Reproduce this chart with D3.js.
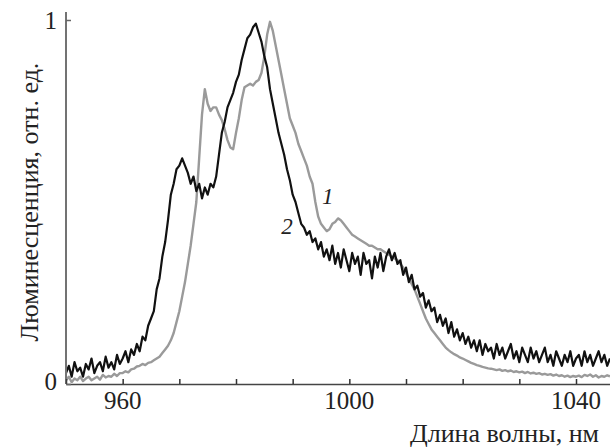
<!DOCTYPE html>
<html>
<head>
<meta charset="utf-8">
<script src="https://cdn.jsdelivr.net/npm/d3@7"></script>
<style>
  body { margin: 0; background: #fff; }
  svg { display: block; }
</style>
</head>
<body>
<script>
// wavelengths, nm (0.5 nm step)
const wavelength = [
  950, 950.5, 951, 951.5, 952, 952.5, 953, 953.5, 954, 954.5,
  955, 955.5, 956, 956.5, 957, 957.5, 958, 958.5, 959, 959.5,
  960, 960.5, 961, 961.5, 962, 962.5, 963, 963.5, 964, 964.5,
  965, 965.5, 966, 966.5, 967, 967.5, 968, 968.5, 969, 969.5,
  970, 970.5, 971, 971.5, 972, 972.5, 973, 973.5, 974, 974.5,
  975, 975.5, 976, 976.5, 977, 977.5, 978, 978.5, 979, 979.5,
  980, 980.5, 981, 981.5, 982, 982.5, 983, 983.5, 984, 984.5,
  985, 985.5, 986, 986.5, 987, 987.5, 988, 988.5, 989, 989.5,
  990, 990.5, 991, 991.5, 992, 992.5, 993, 993.5, 994, 994.5,
  995, 995.5, 996, 996.5, 997, 997.5, 998, 998.5, 999, 999.5,
  1000, 1000.5, 1001, 1001.5, 1002, 1002.5, 1003, 1003.5, 1004, 1004.5,
  1005, 1005.5, 1006, 1006.5, 1007, 1007.5, 1008, 1008.5, 1009, 1009.5,
  1010, 1010.5, 1011, 1011.5, 1012, 1012.5, 1013, 1013.5, 1014, 1014.5,
  1015, 1015.5, 1016, 1016.5, 1017, 1017.5, 1018, 1018.5, 1019, 1019.5,
  1020, 1020.5, 1021, 1021.5, 1022, 1022.5, 1023, 1023.5, 1024, 1024.5,
  1025, 1025.5, 1026, 1026.5, 1027, 1027.5, 1028, 1028.5, 1029, 1029.5,
  1030, 1030.5, 1031, 1031.5, 1032, 1032.5, 1033, 1033.5, 1034, 1034.5,
  1035, 1035.5, 1036, 1036.5, 1037, 1037.5, 1038, 1038.5, 1039, 1039.5,
  1040, 1040.5, 1041, 1041.5, 1042, 1042.5, 1043, 1043.5, 1044, 1044.5,
  1045, 1045.5, 1046
];

// spectrum 1 (gray)
const spectrum1 = [
  0.01, 0.02, 0.005, 0.015, 0.01, 0.02, 0.008, 0.015, 0.02, 0.01,
  0.015, 0.02, 0.012, 0.025, 0.018, 0.022, 0.02, 0.028, 0.022, 0.03,
  0.03, 0.035, 0.032, 0.04, 0.042, 0.048, 0.05, 0.055, 0.052, 0.058,
  0.06, 0.065, 0.07, 0.075, 0.085, 0.095, 0.105, 0.12, 0.14, 0.17,
  0.2, 0.24, 0.28, 0.33, 0.38, 0.44, 0.5, 0.62, 0.74, 0.81,
  0.77, 0.75, 0.76, 0.76, 0.74, 0.725, 0.7, 0.67, 0.65, 0.645,
  0.69, 0.73, 0.78, 0.815, 0.82, 0.825, 0.82, 0.83, 0.835, 0.855,
  0.9, 0.96, 0.995, 0.97, 0.93, 0.89, 0.85, 0.81, 0.77, 0.73,
  0.71, 0.69, 0.66, 0.64, 0.62, 0.6, 0.57, 0.55, 0.5, 0.46,
  0.44, 0.43, 0.42, 0.425, 0.44, 0.445, 0.455, 0.45, 0.44, 0.43,
  0.42, 0.41, 0.405, 0.4, 0.395, 0.39, 0.385, 0.38, 0.38, 0.375,
  0.37, 0.37, 0.365, 0.36, 0.355, 0.35, 0.345, 0.34, 0.33, 0.32,
  0.305, 0.29, 0.275, 0.26, 0.24, 0.22, 0.2, 0.18, 0.165, 0.15,
  0.14, 0.13, 0.12, 0.11, 0.1, 0.093, 0.087, 0.082, 0.078, 0.073,
  0.07, 0.066, 0.062, 0.058, 0.055, 0.052, 0.05, 0.047, 0.045, 0.043,
  0.042, 0.04, 0.038, 0.04, 0.036, 0.038, 0.035, 0.037, 0.033, 0.035,
  0.032, 0.034, 0.03, 0.033, 0.029, 0.031, 0.028, 0.03, 0.026, 0.028,
  0.025, 0.027, 0.023, 0.026, 0.022, 0.024, 0.02, 0.023, 0.019, 0.022,
  0.02, 0.023, 0.019, 0.025, 0.022, 0.026, 0.02, 0.024, 0.018, 0.022,
  0.02, 0.024, 0.021
];

// spectrum 2 (black, noisy)
const spectrum2 = [
  0.03, 0.05, 0.02, 0.06, 0.035, 0.045, 0.02, 0.055, 0.04, 0.07,
  0.03, 0.05, 0.06, 0.035, 0.075, 0.045, 0.06, 0.04, 0.08, 0.055,
  0.07, 0.09, 0.06, 0.095, 0.08, 0.11, 0.09, 0.13, 0.12, 0.16,
  0.18, 0.2, 0.26, 0.29, 0.35, 0.39, 0.45, 0.52, 0.55, 0.59,
  0.6, 0.62, 0.6, 0.58, 0.55, 0.57, 0.53, 0.55, 0.51, 0.54,
  0.52, 0.55, 0.54, 0.57, 0.63, 0.69, 0.72, 0.76, 0.78, 0.8,
  0.83, 0.85, 0.89, 0.92, 0.95, 0.96, 0.98, 0.99, 0.965, 0.94,
  0.9, 0.87, 0.81, 0.77, 0.73, 0.69, 0.66, 0.63, 0.59, 0.56,
  0.52, 0.5, 0.47, 0.44, 0.43, 0.41, 0.42, 0.39, 0.4, 0.37,
  0.39, 0.35, 0.37, 0.34, 0.38, 0.33, 0.36, 0.32, 0.37, 0.34,
  0.31, 0.36, 0.33, 0.35, 0.3, 0.36, 0.33, 0.34, 0.29, 0.35,
  0.32, 0.36, 0.31, 0.35, 0.37, 0.34, 0.36, 0.33, 0.34, 0.3,
  0.32, 0.28, 0.3, 0.26, 0.27, 0.24, 0.25, 0.21, 0.23, 0.2,
  0.21, 0.17, 0.19, 0.16, 0.18, 0.14, 0.17, 0.13, 0.15, 0.12,
  0.14, 0.11, 0.13, 0.1, 0.12, 0.09, 0.12, 0.08, 0.11, 0.09,
  0.1, 0.07, 0.11, 0.08, 0.1, 0.07, 0.09, 0.11, 0.07, 0.09,
  0.06, 0.1, 0.08, 0.06, 0.1, 0.07, 0.09, 0.06, 0.08, 0.1,
  0.06, 0.08, 0.05, 0.09, 0.07, 0.05, 0.08, 0.06, 0.09, 0.05,
  0.07, 0.08, 0.05, 0.09, 0.06, 0.08, 0.05, 0.07, 0.09, 0.06,
  0.08, 0.05, 0.07
];

const xTicks = [950, 960, 970, 980, 990, 1000, 1010, 1020, 1030, 1040];
const xTickLabels = [960, 1000, 1040];
const yTicks = [0, 1];

// curve labels: [text, wavelength, value]
const curveLabels = [["1", 996.2, 0.495], ["2", 989.0, 0.412]];

const W = 610, H = 448;
const margin = {top: 20, right: 0, bottom: 64, left: 66};

const svg = d3.select("body")
    .append("svg")
    .attr("width", W)
    .attr("height", H);

const x = d3.scaleLinear()
    .domain([950, 1046])
    .range([margin.left, W - margin.right]);

const y = d3.scaleLinear()
    .domain([0, 1])
    .range([H - margin.bottom, margin.top]);

const serif = "'Liberation Serif', 'Times New Roman', serif";

// clip so the noisy traces never spill over the axes
svg.append("clipPath").attr("id", "plot")
    .append("rect")
    .attr("x", margin.left + 1)
    .attr("y", 0)
    .attr("width", W - margin.left)
    .attr("height", y(0) - 1);

const line = d3.line()
    .x((d, i) => x(wavelength[i]))
    .y(d => y(d));

svg.append("path")
    .datum(spectrum1)
    .attr("clip-path", "url(#plot)")
    .attr("fill", "none")
    .attr("stroke", "#9a9a9a")
    .attr("stroke-width", 2.4)
    .attr("stroke-linejoin", "round")
    .attr("d", line);

svg.append("path")
    .datum(spectrum2)
    .attr("clip-path", "url(#plot)")
    .attr("fill", "none")
    .attr("stroke", "#111")
    .attr("stroke-width", 2.2)
    .attr("stroke-linejoin", "round")
    .attr("d", line);

// x axis, ticks point inward
const xAxis = svg.append("g")
    .attr("transform", `translate(0,${y(0)})`)
    .call(d3.axisBottom(x).tickValues(xTicks).tickSizeInner(-5).tickSizeOuter(0).tickFormat(""));
xAxis.select(".domain").attr("stroke", "#444").attr("stroke-width", 1.5);
xAxis.selectAll(".tick line").attr("stroke", "#333").attr("stroke-width", 1.5);

svg.selectAll(".xlabel")
    .data(xTickLabels)
    .enter()
    .append("text")
    .attr("class", "xlabel")
    .attr("x", d => x(d))
    .attr("y", y(0) + 25)
    .attr("text-anchor", "middle")
    .style("font-family", serif)
    .style("font-size", "25px")
    .attr("fill", "#222")
    .text(d => d);

// y axis
const yAxis = svg.append("g")
    .attr("transform", `translate(${margin.left},0)`)
    .call(d3.axisLeft(y).tickValues(yTicks).tickSizeInner(-5).tickSizeOuter(0).tickFormat(""));
yAxis.select(".domain").attr("stroke", "#444").attr("stroke-width", 1.5)
    .attr("d", `M0,${y(0)}V${y(1) - 8}`);
yAxis.selectAll(".tick line").attr("stroke", "#666").attr("stroke-width", 1.5);

svg.selectAll(".ylabel")
    .data(yTicks)
    .enter()
    .append("text")
    .attr("class", "ylabel")
    .attr("x", margin.left - 9)
    .attr("y", d => d === 0 ? y(d) + 6 : y(d) + 9)
    .attr("text-anchor", "end")
    .style("font-family", serif)
    .style("font-size", "25px")
    .attr("fill", "#222")
    .text(d => d);

// axis titles
svg.append("text")
    .attr("x", 599)
    .attr("y", 442)
    .attr("text-anchor", "end")
    .style("font-family", serif)
    .style("font-size", "26px")
    .attr("fill", "#222")
    .text("Длина волны, нм");

svg.append("text")
    .attr("transform", `translate(38,${(y(0) + y(1)) / 2}) rotate(-90)`)
    .attr("text-anchor", "middle")
    .style("font-family", serif)
    .style("font-size", "26px")
    .attr("fill", "#222")
    .text("Люминесценция, отн. ед.");

// curve numbers
svg.selectAll(".curve-label")
    .data(curveLabels)
    .enter()
    .append("text")
    .attr("class", "curve-label")
    .attr("x", d => x(d[1]))
    .attr("y", d => y(d[2]))
    .attr("text-anchor", "middle")
    .style("font-family", serif)
    .style("font-style", "italic")
    .style("font-size", "23px")
    .attr("fill", "#222")
    .text(d => d[0]);
</script>
</body>
</html>
